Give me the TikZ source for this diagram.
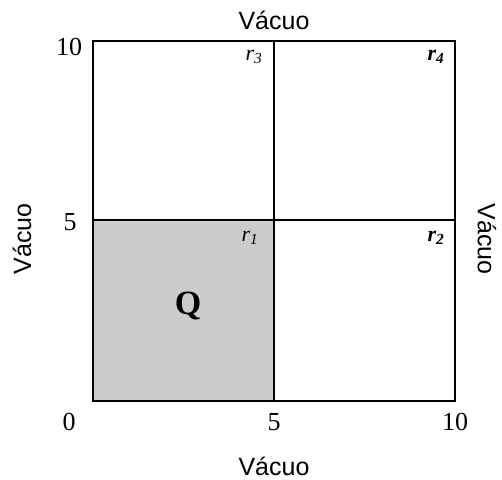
\documentclass[tikz,border=0pt]{standalone}
\usepackage{fontspec}
\setmainfont{Liberation Serif}
\newfontfamily\arialf{Liberation Sans}
\definecolor{qgray}{HTML}{CCCCCC}
\begin{document}
\begin{tikzpicture}[x=1pt,y=-1pt,
  edge/.style={line width=1.6pt,black},
  vac/.style={font=\arialf\fontsize{25}{28}\selectfont,inner sep=0pt},
  num/.style={font=\fontsize{26}{28}\selectfont,inner sep=0pt},
  rlab/.style={font=\fontsize{22}{24}\selectfont\itshape,inner sep=0pt},
  rbold/.style={font=\fontsize{22}{24}\selectfont\bfseries\itshape,inner sep=0pt}]
\useasboundingbox (0,0) rectangle (502,479);
\fill[qgray] (93,220) rectangle (274,401);
\draw[edge] (93,41) rectangle (455,401);
\coordinate (tm) at (274,41);
\coordinate (bm) at (274,401);
\coordinate (lm) at (93,220);
\coordinate (rm) at (455,220);
\draw[edge] (tm) -- (bm);
\draw[edge] (lm) -- (rm);
\node[vac] (vtop) at (274,20) {Vácuo};
\node[vac] (vbot) at (274,466) {Vácuo};
\node[vac,rotate=90] (vleft) at (22,239) {Vácuo};
\node[vac,rotate=-90] (vright) at (487,239) {Vácuo};
\node[num] (n10l) at (69,47) {10};
\node[num] (n5l) at (70,222) {5};
\node[num] (n0) at (69,422) {0};
\node[num] (n5b) at (274,422) {5};
\node[num] (n10b) at (455,422) {10};
\node[rlab] (r3) at (254,57) {r\textsubscript{3}};
\node[rbold] (r4) at (436,57) {r\textsubscript{4}};
\node[rlab] (r1) at (250,238) {r\textsubscript{1}};
\node[rbold] (r2) at (436,238) {r\textsubscript{2}};
\node[font=\fontsize{34}{36}\selectfont\bfseries,inner sep=0pt] (Q) at (188,306) {Q};
\end{tikzpicture}
\end{document}
